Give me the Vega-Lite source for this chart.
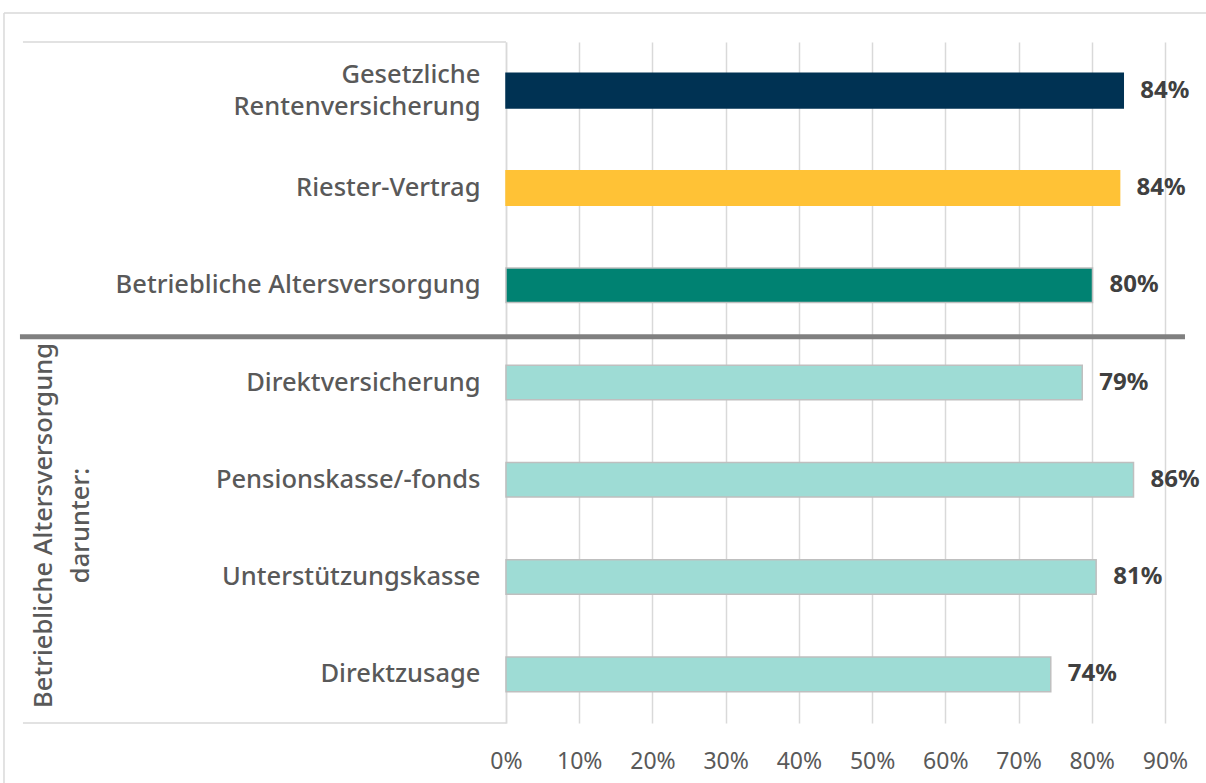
{
  "$schema": "https://vega.github.io/schema/vega-lite/v6.json",
  "autosize": "none",
  "width": 659,
  "height": 681,
  "padding": {"left": 506, "top": 42, "right": 41, "bottom": 60},
  "background": "white",
  "config": {"view": {"stroke": null}, "font": "Noto Sans"},
  "datasets": {
    "bars": [
      {"kategorie": "Gesetzliche Rentenversicherung", "anteil": 0.843, "gruppe": "GRV"},
      {"kategorie": "Riester-Vertrag", "anteil": 0.838, "gruppe": "Riester"},
      {"kategorie": "Betriebliche Altersversorgung", "anteil": 0.801, "gruppe": "bAV"},
      {"kategorie": "Direktversicherung", "anteil": 0.787, "gruppe": "bAV-Durchführungsweg"},
      {"kategorie": "Pensionskasse/-fonds", "anteil": 0.857, "gruppe": "bAV-Durchführungsweg"},
      {"kategorie": "Unterstützungskasse", "anteil": 0.806, "gruppe": "bAV-Durchführungsweg"},
      {"kategorie": "Direktzusage", "anteil": 0.744, "gruppe": "bAV-Durchführungsweg"}
    ],
    "eins": [{"n": 1}]
  },
  "layer": [
    {
      "data": {"name": "bars"},
      "mark": {"type": "bar", "height": {"band": 0.355}, "strokeWidth": 1.5},
      "encoding": {
        "y": {
          "field": "kategorie",
          "type": "nominal",
          "sort": null,
          "scale": {
            "domain": ["Gesetzliche Rentenversicherung", "Riester-Vertrag", "Betriebliche Altersversorgung", "Direktversicherung", "Pensionskasse/-fonds", "Unterstützungskasse", "Direktzusage"],
            "paddingInner": 0,
            "paddingOuter": 0
          },
          "axis": {
            "title": ["Betriebliche Altersversorgung", "darunter:"],
            "titleAngle": -90,
            "titleX": -455,
            "titleY": 483,
            "titleAlign": "center",
            "titleBaseline": "alphabetic",
            "titleLineHeight": 37,
            "titleFontSize": 25.5,
            "titleFontWeight": 500,
            "titleColor": "#595959",
            "titleFont": "Noto Sans",
            "labelExpr": "datum.value == 'Gesetzliche Rentenversicherung' ? ['Gesetzliche', 'Rentenversicherung'] : datum.value",
            "labelOffset": {"condition": {"test": "datum.value == 'Gesetzliche Rentenversicherung'", "value": -16}, "value": 0},
            "labelLineHeight": 32,
            "labelLimit": 0,
            "labelPadding": 26,
            "labelFontSize": 25.5,
            "labelFontWeight": 500,
            "labelColor": "#595959",
            "labelFont": "Noto Sans",
            "ticks": false,
            "domainColor": "#D9D9D9",
            "domainWidth": 1.5,
            "grid": false
          }
        },
        "x": {
          "field": "anteil",
          "type": "quantitative",
          "scale": {"domain": [0, 0.9], "nice": false},
          "axis": {
            "title": null,
            "format": ".0%",
            "values": [0, 0.1, 0.2, 0.3, 0.4, 0.5, 0.6, 0.7, 0.8, 0.9],
            "grid": true,
            "gridColor": "#D9D9D9",
            "gridWidth": 1.5,
            "domain": false,
            "ticks": false,
            "labelFlush": false,
            "labelPadding": 27,
            "labelFontSize": 23,
            "labelColor": "#595959",
            "labelFont": "Noto Sans"
          }
        },
        "color": {
          "field": "gruppe",
          "type": "nominal",
          "scale": {"domain": ["GRV", "Riester", "bAV", "bAV-Durchführungsweg"], "range": ["#003253", "#FFC236", "#008272", "#9EDCD5"]},
          "legend": null
        },
        "stroke": {
          "field": "gruppe",
          "type": "nominal",
          "scale": {"domain": ["GRV", "Riester", "bAV", "bAV-Durchführungsweg"], "range": ["#003253", "#FFC236", "#BFBFBF", "#BFBFBF"]},
          "legend": null
        }
      }
    },
    {
      "data": {"name": "bars"},
      "mark": {"type": "text", "align": "left", "baseline": "middle", "dx": 17, "fontSize": 24, "fontWeight": "bold", "color": "#404040", "font": "Noto Sans"},
      "encoding": {
        "y": {"field": "kategorie", "type": "nominal", "sort": null},
        "x": {"field": "anteil", "type": "quantitative"},
        "text": {"field": "anteil", "type": "quantitative", "format": ".0%"}
      }
    },
    {
      "data": {"name": "eins"},
      "mark": {"type": "rule", "color": "#D9D9D9", "strokeWidth": 1.5, "yOffset": -29},
      "encoding": {
        "x": {"datum": -0.6856, "type": "quantitative"},
        "x2": {"datum": 0.96},
        "y": {"datum": "Gesetzliche Rentenversicherung", "type": "nominal", "bandPosition": 0}
      }
    },
    {
      "data": {"name": "eins"},
      "mark": {"type": "rule", "color": "#D9D9D9", "strokeWidth": 1.5, "yOffset": -29, "y2Offset": 80},
      "encoding": {
        "x": {"datum": -0.6856, "type": "quantitative"},
        "y": {"datum": "Gesetzliche Rentenversicherung", "type": "nominal", "bandPosition": 0},
        "y2": {"datum": "Direktzusage", "bandPosition": 1}
      }
    },
    {
      "data": {"name": "eins"},
      "mark": {"type": "rule", "color": "#D9D9D9", "strokeWidth": 1.5},
      "encoding": {
        "x": {"datum": -0.6597, "type": "quantitative"},
        "x2": {"datum": 0},
        "y": {"datum": "Gesetzliche Rentenversicherung", "type": "nominal", "bandPosition": 0}
      }
    },
    {
      "data": {"name": "eins"},
      "mark": {"type": "rule", "color": "#D9D9D9", "strokeWidth": 1.5},
      "encoding": {
        "x": {"datum": -0.6597, "type": "quantitative"},
        "x2": {"datum": 0},
        "y": {"datum": "Direktzusage", "type": "nominal", "bandPosition": 1}
      }
    },
    {
      "data": {"name": "eins"},
      "mark": {"type": "rule", "color": "#808080", "strokeWidth": 5, "yOffset": 3},
      "encoding": {
        "x": {"datum": -0.6638, "type": "quantitative"},
        "x2": {"datum": 0.9273},
        "y": {"datum": "Betriebliche Altersversorgung", "type": "nominal", "bandPosition": 1}
      }
    }
  ]
}
